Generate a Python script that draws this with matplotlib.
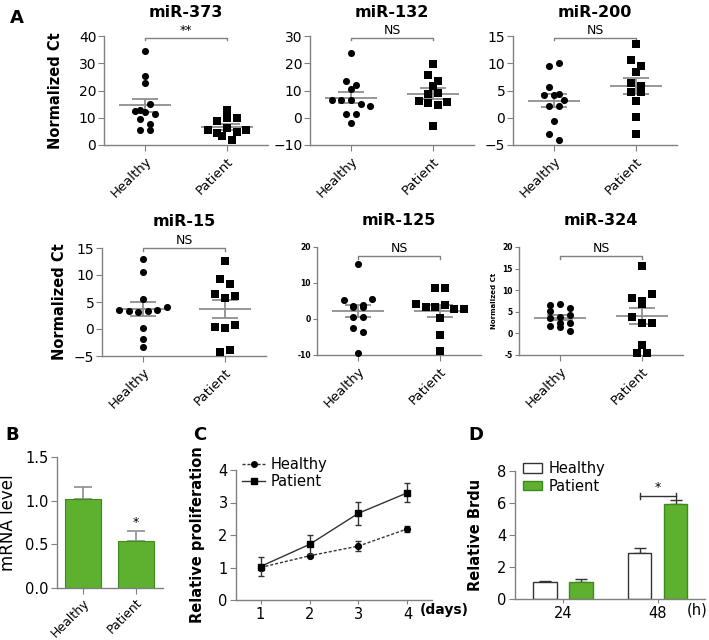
import numpy as np
import matplotlib
matplotlib.use('Agg')
import matplotlib.pyplot as plt
from matplotlib.transforms import blended_transform_factory
from matplotlib.patches import Patch
from matplotlib.lines import Line2D

plt.rcParams['font.family'] = ['DejaVu Sans']
plt.rcParams['axes.linewidth'] = 1.0

# ---------------- data ----------------
groups = ['Healthy', 'Patient']

healthy_373 = [34.4, 25.2, 22.6, 13.0, 12.4, 15.0, 12.0, 11.5, 9.4, 7.8, 5.4, 5.4]
patient_373 = [12.8, 8.8, 9.8, 10.0, 5.5, 4.3, 6.1, 3.4, 4.9, 5.5, 1.8]

healthy_132 = [23.6, 13.6, 12.1, 10.4, 6.4, 6.4, 6.4, 5.1, 4.2, 1.5, 1.5, -2.1]
patient_132 = [19.9, 15.6, 13.6, 11.8, 8.6, 9.1, 6.2, 5.5, 4.5, 5.7, -2.9]

healthy_200 = [9.5, 10.1, 5.6, 4.1, 4.1, 4.4, 3.3, 2.1, 2.2, -0.6, -3.0, -4.0]
patient_200 = [13.5, 10.6, 9.5, 8.4, 6.4, 5.8, 4.8, 4.8, 3.1, 0.2, -3.0]

healthy_15 = [13.0, 10.5, 5.5, 3.6, 3.4, 3.1, 3.4, 3.5, 4.0, 0.1, -1.9, -3.3]
patient_15 = [12.6, 9.2, 8.4, 6.4, 5.8, 6.1, 0.4, 0.1, 0.7, -4.2, -3.9]

healthy_125 = [15.4, 5.2, 3.7, 3.4, 3.4, 3.8, 5.5, 0.6, 0.6, -2.6, -3.5, -9.5]
patient_125 = [8.6, 8.7, 4.1, 3.2, 3.4, 3.8, 2.7, 2.9, 0.4, -4.5, -8.8]

healthy_324 = [6.5, 6.9, 5.8, 5.2, 3.5, 3.7, 4.2, 2.3, 1.7, 1.5, 2.3, 0.5]
patient_324 = [15.6, 8.3, 6.9, 7.5, 9.1, 3.8, 2.5, 2.5, -2.8, -4.5, -4.5]

titles = ['miR-373', 'miR-132', 'miR-200', 'miR-15', 'miR-125', 'miR-324']
sig_labels = ['**', 'NS', 'NS', 'NS', 'NS', 'NS']
yticks_373 = [0, 10, 20, 30, 40]
yticks_132 = [-10, 0, 10, 20, 30]
yticks_200 = [-5, 0, 5, 10, 15]
yticks_15 = [-5, 0, 5, 10, 15]
yticks_125 = [-10, 0, 10, 20]
yticks_324 = [-5, 0, 5, 10, 15, 20]

b_values = [1.02, 0.54]
b_err = [0.14, 0.11]
b_yticks = [0.0, 0.5, 1.0, 1.5]

days = [1, 2, 3, 4]
c_healthy = [1.0, 1.36, 1.66, 2.19]
c_healthy_err = [0.08, 0.05, 0.15, 0.09]
c_patient = [1.03, 1.71, 2.67, 3.30]
c_patient_err = [0.28, 0.28, 0.35, 0.29]

d_groups = ['24', '48']
d_healthy = [1.04, 2.85]
d_healthy_err = [0.10, 0.31]
d_patient = [1.04, 5.92]
d_patient_err = [0.23, 0.27]

# ---------------- layout ----------------
W, H = 709, 640
fig = plt.figure(figsize=(W / 100, H / 100), dpi=100)


def rect(l, t, r, b):
    return [l / W, 1 - b / H, (r - l) / W, (b - t) / H]


GRAY = '#808080'
LGRAY = '#8f8f8f'
GREEN = '#5db12f'
GREEN_E = '#3f8a1e'


def style_axes(ax, lw=1.0):
    for s in ['top', 'right']:
        ax.spines[s].set_visible(False)
    for s in ['left', 'bottom']:
        ax.spines[s].set_color(GRAY)
        ax.spines[s].set_linewidth(lw)
    ax.tick_params(colors=GRAY, labelcolor='black')


def row_offsets(ax, x0, ys, row_px=7.0, step_px=9.6):
    """Column-scatter layout: values closer than one marker height share a row
    and are spread symmetrically around the category centre."""
    ys = np.asarray(ys, dtype=float)
    py = ax.transData.transform(np.column_stack([np.full(len(ys), x0), ys]))[:, 1]
    order = np.argsort(-py, kind='stable')
    offs = np.zeros(len(ys))
    rows = []
    for i in order:
        if rows and abs(py[rows[-1][0]] - py[i]) <= row_px:
            rows[-1].append(i)
        else:
            rows.append([i])
    for rw in rows:
        rw = sorted(rw)
        n = len(rw)
        for j, i in enumerate(rw):
            offs[i] = (j - (n - 1) / 2) * step_px
    ppx = ax.transData.transform((1, 0))[0] - ax.transData.transform((0, 0))[0]
    return offs / ppx


scatter_data = [(healthy_373, patient_373, yticks_373),
                (healthy_132, patient_132, yticks_132),
                (healthy_200, patient_200, yticks_200),
                (healthy_15, patient_15, yticks_15),
                (healthy_125, patient_125, yticks_125),
                (healthy_324, patient_324, yticks_324)]

scatter_rects = [rect(104, 36, 268, 145), rect(310, 36, 474, 145), rect(513, 36, 677, 145),
                 rect(102, 248, 266, 356), rect(317, 247, 481, 355), rect(519, 247, 683, 355)]
title_pads = [13.5, 13.5, 13.5, 15.5, 15.5, 15.5]
bracket_y = [0.985, 0.985, 0.985, 1.0, 0.917, 0.917]
small = [False, False, False, False, True, True]

for k, ((hv, pv, yt), r) in enumerate(zip(scatter_data, scatter_rects)):
    ax = fig.add_axes(r)
    style_axes(ax)
    ax.set_xlim(0.5, 2.5)
    ax.set_ylim(yt[0], yt[-1])
    ax.set_yticks(yt)
    ax.set_xticks([1, 2])
    if small[k]:
        ax.set_yticklabels([str(v) for v in yt], fontsize=5.5, fontweight='bold')
        ax.tick_params(axis='y', length=3, pad=1.5)
    else:
        ax.set_yticklabels([('\u2212' + str(-v)) if v < 0 else str(v) for v in yt], fontsize=10)
        ax.tick_params(axis='y', length=4, pad=1.5)
    ax.set_xticklabels(groups, rotation=45, ha='right', va='top',
                       rotation_mode='anchor', fontsize=9.5)
    ax.tick_params(axis='x', length=4, pad=3)
    ax.set_title(titles[k], fontsize=11.5, fontweight='bold', pad=title_pads[k])

    for x0, vals, mk in [(1, hv, 'o'), (2, pv, 's')]:
        vals = np.asarray(vals, dtype=float)
        offs = row_offsets(ax, x0, vals)
        ax.scatter(x0 + offs, vals, marker=mk, s=26, color='black',
                   linewidths=0, zorder=3, clip_on=False)
        m = vals.mean()
        se = vals.std(ddof=1) / np.sqrt(len(vals))
        ax.hlines(m, x0 - 0.32, x0 + 0.32, color=LGRAY, lw=1.3, zorder=2)
        ax.vlines(x0, m - se, m + se, color=LGRAY, lw=1.3, zorder=2)
        ax.hlines([m - se, m + se], x0 - 0.16, x0 + 0.16, color=LGRAY, lw=1.3, zorder=2)

    tr = blended_transform_factory(ax.transData, ax.transAxes)
    by = bracket_y[k]
    ax.plot([1, 1, 2, 2], [by - 0.025, by, by, by - 0.025], color=GRAY, lw=1.0,
            transform=tr, clip_on=False)
    ax.text(1.5, by + 0.005, sig_labels[k], transform=tr, ha='center', va='bottom',
            fontsize=9)

    if k in (0, 3):
        ax.set_ylabel('Normalized Ct', fontsize=10.5, fontweight='bold')
        ax.yaxis.set_label_coords(-0.25 if k == 0 else -0.215, 0.5)
    if k == 5:
        ax.set_ylabel('Normalized Ct', fontsize=5, fontweight='bold')
        ax.yaxis.set_label_coords(-0.135, 0.5)

# ---------------- B ----------------
axb = fig.add_axes(rect(57, 457, 163, 588))
style_axes(axb)
xb = np.arange(len(groups))
axb.bar(xb, b_values, width=0.69, color=GREEN, edgecolor=GREEN_E, linewidth=0.8, zorder=2)
axb.errorbar(xb, b_values, yerr=[np.zeros(len(b_err)), b_err], fmt='none',
             ecolor=LGRAY, elinewidth=1.2, capsize=6.3, capthick=1.2, zorder=1)
axb.set_xlim(-0.5, 1.52)
axb.set_ylim(0, 1.5)
axb.set_yticks(b_yticks)
axb.set_yticklabels(['%.1f' % v for v in b_yticks], fontsize=10.5)
axb.set_xticks(xb)
axb.set_xticklabels(groups, rotation=45, ha='right', va='top', rotation_mode='anchor',
                    fontsize=9)
axb.tick_params(axis='y', length=4, pad=2)
axb.tick_params(axis='x', length=4, pad=2)
axb.text(xb[1], b_values[1] + b_err[1] + 0.02, '*', ha='center', va='bottom', fontsize=9)
axb.set_ylabel('mRNA level', fontsize=12)
axb.yaxis.set_label_coords(-0.375, 0.5)

# ---------------- C ----------------
axc = fig.add_axes(rect(236, 470, 432, 600))
style_axes(axc)
LC = '#333333'
axc.errorbar(days, c_healthy, yerr=c_healthy_err, color=LC, ls=(0, (2.2, 1.4)), lw=1.0,
             marker='o', ms=4.2, mfc='black', mec='black', ecolor=LC, elinewidth=1.0,
             capsize=2.5, zorder=3)
axc.errorbar(days, c_patient, yerr=c_patient_err, color=LC, ls='-', lw=1.0,
             marker='s', ms=4.8, mfc='black', mec='black', ecolor=LC, elinewidth=1.0,
             capsize=2.5, zorder=4)
axc.set_xlim(0.5, 4.5)
axc.set_ylim(0, 4)
axc.set_xticks(days)
axc.set_yticks([0, 1, 2, 3, 4])
axc.tick_params(axis='both', labelsize=10.5)
axc.tick_params(axis='y', length=4, pad=2)
axc.tick_params(axis='x', length=3, pad=2)
axc.set_ylabel('Relative proliferation', fontsize=10.5, fontweight='bold')
axc.yaxis.set_label_coords(-0.158, 0.5)
trc = blended_transform_factory(axc.transData, axc.transAxes)
axc.text(4.74, -0.078, '(days)', transform=trc, ha='center', va='center', fontsize=10,
         fontweight='bold', clip_on=False)
hc = [Line2D([], [], color=LC, ls=(0, (2.2, 1.4)), lw=1.0, marker='o', ms=4, mfc='black',
             mec='black'),
      Line2D([], [], color=LC, ls='-', lw=1.0, marker='s', ms=4.5, mfc='black', mec='black')]
axc.legend(hc, groups, loc='upper left', bbox_to_anchor=(0.03, 1.1), frameon=False,
           fontsize=10.5, handlelength=1.6, handletextpad=0.4, labelspacing=0.15,
           borderaxespad=0, borderpad=0)

# ---------------- D ----------------
axd = fig.add_axes(rect(515, 471, 705, 599))
style_axes(axd)
xd = np.arange(len(d_groups))
off = 0.19
bw = 0.25
axd.bar(xd - off, d_healthy, width=bw, color='white', edgecolor='#333333', linewidth=1.0,
        zorder=2)
axd.bar(xd + off, d_patient, width=bw, color=GREEN, edgecolor=GREEN_E, linewidth=1.0,
        zorder=2)
axd.errorbar(xd - off, d_healthy, yerr=[np.zeros(2), d_healthy_err], fmt='none',
             ecolor='#333333', elinewidth=1.0, capsize=4.5, capthick=1.0, zorder=1)
axd.errorbar(xd + off, d_patient, yerr=[np.zeros(2), d_patient_err], fmt='none',
             ecolor='#333333', elinewidth=1.0, capsize=4.5, capthick=1.0, zorder=1)
axd.set_xlim(-0.505, 1.5)
axd.set_ylim(0, 8)
axd.set_xticks(xd)
axd.set_xticklabels(d_groups)
axd.set_yticks([0, 2, 4, 6, 8])
axd.tick_params(axis='both', labelsize=10.5)
axd.tick_params(axis='y', length=4, pad=2)
axd.tick_params(axis='x', length=3, pad=2)
axd.set_ylabel('Relative Brdu', fontsize=10.5, fontweight='bold')
axd.yaxis.set_label_coords(-0.168, 0.5)
trd = blended_transform_factory(axd.transData, axd.transAxes)
axd.text(1.42, -0.086, '(h)', transform=trd, ha='center', va='center', fontsize=10.5,
         clip_on=False)
yb = d_patient[1] + d_patient_err[1] + 0.25
axd.plot([xd[1] - off, xd[1] + off], [yb, yb], color='#333333', lw=1.0)
axd.plot([xd[1] - off, xd[1] - off], [yb - 0.2, yb + 0.2], color='#333333', lw=1.0)
axd.plot([xd[1] + off, xd[1] + off], [yb - 0.2, yb + 0.2], color='#333333', lw=1.0)
axd.text(xd[1], yb + 0.12, '*', ha='center', va='bottom', fontsize=9)
hd = [Patch(facecolor='white', edgecolor='#333333', lw=1.0),
      Patch(facecolor=GREEN, edgecolor=GREEN_E, lw=1.0)]
axd.legend(hd, groups, loc='upper left', bbox_to_anchor=(0.04, 1.08), frameon=False,
           fontsize=10.5, handlelength=1.3, handleheight=0.65, handletextpad=0.5,
           labelspacing=0.2, borderaxespad=0, borderpad=0)

# ---------------- panel letters ----------------
for lab, (px, py) in {'A': (17, 18), 'B': (12, 435), 'C': (200, 435), 'D': (476, 435)}.items():
    fig.text(px / W, 1 - py / H, lab, fontsize=13, fontweight='bold', ha='center', va='center')

fig.savefig('out.png', dpi=100)
